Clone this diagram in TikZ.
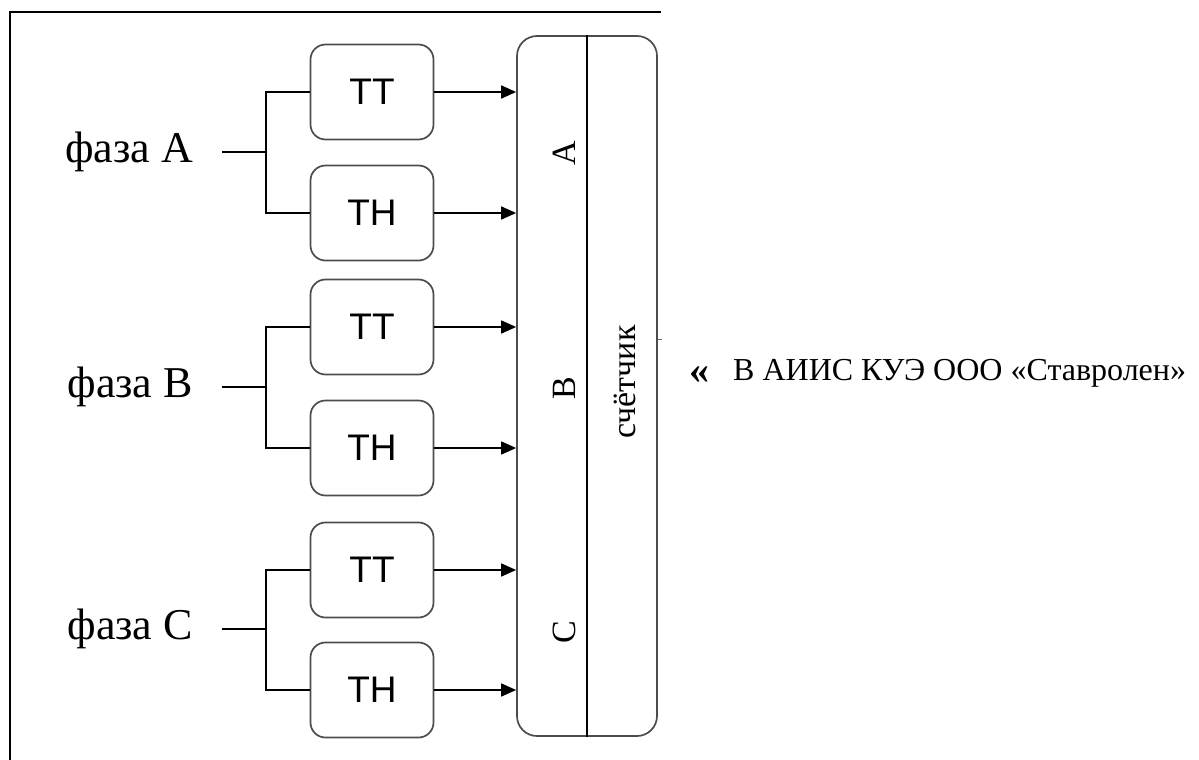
\documentclass[tikz,border=0pt]{standalone}
\usepackage{fontspec}
\setmainfont{Liberation Serif}
\newfontfamily\boxfont{Liberation Sans}
\usetikzlibrary{arrows.meta}
\begin{document}
\begin{tikzpicture}[x=1pt, y=-1pt,
    tr/.style={draw=black!70, line width=1.7pt, rounded corners=15pt,
          minimum width=123pt, minimum height=95pt, inner sep=0pt,
          font=\boxfont\fontsize{37}{37}\selectfont},
    wire/.style={line width=1.6pt},
    feed/.style={wire, -{Triangle[length=15pt,width=13pt]}},
    phase/.style={inner sep=0pt, font=\fontsize{44}{44}\selectfont},
    mlabel/.style={rotate=90, inner sep=0pt, font=\fontsize{34}{34}\selectfont}]
    \useasboundingbox (0,0) rectangle (1199,760);
    % frame
    \coordinate (fb) at (10,760);
    \coordinate (fc) at (10,12);
    \coordinate (fr) at (661,12);
    \draw[wire] (fb) -- (fc) -- (fr);
    % meter
    \node[draw=black!70, line width=1.7pt, rounded corners=20pt,
          minimum width=140pt, minimum height=700pt] (meter) at (587,386) {};
    \draw[line width=1.4pt] (meter.north) -- (meter.south);
    \node[mlabel] (mA) at (564,153) {A};
    \node[mlabel] (mB) at (564,388) {B};
    \node[mlabel] (mC) at (564,632) {C};
    \node[mlabel] (cnt) at (625,382) {счётчик};
    \draw[black!60, line width=1pt] ([yshift=47pt]meter.east) -- ++(4,0);
    % phases
    \foreach \p/\yt/\yn/\yl in {A/92/213/152, B/327/448/387, C/570/690/629}{
        \node[tr] (tt\p) at (372,\yt) {ТТ};
        \node[tr] (tn\p) at (372,\yn) {ТН};
        \node[phase, anchor=east] (f\p) at (193,\yl) {фаза \p};
        \coordinate (j\p) at (266,\yl);
        \draw[wire] ([xshift=29pt]f\p.east) -- (j\p);
        \draw[wire] (tt\p.west) -| (j\p) |- (tn\p.west);
        \draw[feed] (tt\p) -- (tt\p -| meter.west);
        \draw[feed] (tn\p) -- (tn\p -| meter.west);
    };
    % output
    \node[inner sep=0pt, font=\bfseries\fontsize{40}{40}\selectfont] (out) at (699,375) {«};
    \node[inner sep=0pt, anchor=west, font=\fontsize{32}{32}\selectfont] (dest) at (733,373)
        {В АИИС КУЭ ООО «Ставролен»};
\end{tikzpicture}
\end{document}
